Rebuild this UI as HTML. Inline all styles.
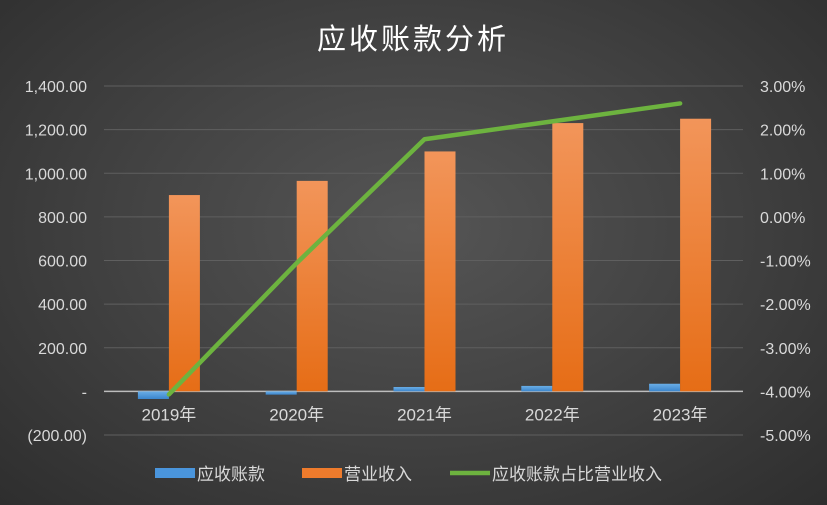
<!DOCTYPE html>
<html><head><meta charset="utf-8"><style>
body{margin:0;}
#wrap{width:827px;height:505px;background:radial-gradient(ellipse at 50% 45%,#555 0%,#444 45%,#2e2e2e 100%);position:relative;overflow:hidden;font-family:"Liberation Sans","Noto Sans CJK SC",sans-serif;}
</style></head><body>
<div id="wrap">
<svg id="chart" width="827" height="505">
<defs>
<linearGradient id="og" x1="0" y1="0" x2="0" y2="1"><stop offset="0" stop-color="#f2955a"/><stop offset="1" stop-color="#e66d16"/></linearGradient>
<linearGradient id="bg" x1="0" y1="0" x2="0" y2="1"><stop offset="0" stop-color="#6aaee6"/><stop offset="1" stop-color="#3b85cc"/></linearGradient>
</defs>
<text x="413" y="49" text-anchor="middle" fill="#fff" font-size="29" letter-spacing="3" font-family="Liberation Sans,Noto Sans CJK SC,sans-serif">应收账款分析</text>
</svg>
</div>
<script>
const categories=["2019年","2020年","2021年","2022年","2023年"];
const receivables=[-35,-15,20,25,35];
const revenue=[900,965,1100,1230,1250];
const ratio=[-4.07,-1.06,1.78,2.19,2.6];
const leftTicks=[-200,0,200,400,600,800,1000,1200,1400];
const leftTickLabels=["(200.00)","-","200.00","400.00","600.00","800.00","1,000.00","1,200.00","1,400.00"];
const rightTicks=[-5,-4,-3,-2,-1,0,1,2,3];
const rightTickLabels=["-5.00%","-4.00%","-3.00%","-2.00%","-1.00%","0.00%","1.00%","2.00%","3.00%"];

const svg=document.getElementById('chart');
const NS='http://www.w3.org/2000/svg';
const x0=104,x1=743,yTop=86,yBot=435;
const yL=v=>yBot-(v+200)/1600*(yBot-yTop);
const yR=v=>yBot-(v+5)/8*(yBot-yTop);
const band=(x1-x0)/categories.length;
const cx=i=>x0+band*(i+0.5)+1;
function mk(tag,attrs,parent){const e=document.createElementNS(NS,tag);for(const k in attrs)e.setAttribute(k,attrs[k]);(parent||svg).appendChild(e);return e;}

leftTicks.forEach((t,i)=>{
  const g=mk('line',{x1:x0,x2:x1,y1:yL(t),y2:yL(t),stroke:t===0?'#bdbdbd':'#5f5f5f','stroke-width':t===0?1.5:1});
  
  
  const tx=mk('text',{x:87,y:yL(t)+6,'text-anchor':'end',fill:'#d9d9d9','font-size':16});
  tx.textContent=leftTickLabels[i];
  
  
});
rightTicks.forEach((t,i)=>{
  const tx=mk('text',{x:760,y:yR(t)+6,'text-anchor':'start',fill:'#d9d9d9','font-size':16});
  tx.textContent=rightTickLabels[i];
  
  
});
const bw=31;
categories.forEach((c,i)=>{
  const v=receivables[i];
  const b=mk('rect',{x:cx(i)-bw,y:Math.min(yL(v),yL(0)),width:bw,height:Math.abs(yL(v)-yL(0)),fill:'url(#bg)'});
  
  
  const r=revenue[i];
  const o=mk('rect',{x:cx(i),y:yL(r),width:bw,height:yL(0)-yL(r),fill:'url(#og)'});
  
  
  const tx=mk('text',{x:cx(i),y:yL(0)+29,'text-anchor':'middle',fill:'#d9d9d9','font-size':17});
  tx.textContent=c;
  
  
});
const pts=ratio.map((v,i)=>cx(i)+','+yR(v)).join(' ');
const ln=mk('polyline',{points:pts,fill:'none',stroke:'#6db33f','stroke-width':4.5,'stroke-linecap':'round','stroke-linejoin':'round'});



const leg=[["bar","#4a95dc","应收账款",155],["bar","#ee7b2c","营业收入",302],["line","#6db33f","应收账款占比营业收入",450]];
leg.forEach(l=>{
  let m;
  if(l[0]==='bar') m=mk('rect',{x:l[3],y:468,width:40,height:10,fill:l[1]});
  else m=mk('line',{x1:l[3],x2:l[3]+40,y1:473,y2:473,stroke:l[1],'stroke-width':4.5});
  
  
  const t=mk('text',{x:l[3]+42,y:480,fill:'#d9d9d9','font-size':17});
  t.textContent=l[2];
  
  
});
</script>
</body></html>
